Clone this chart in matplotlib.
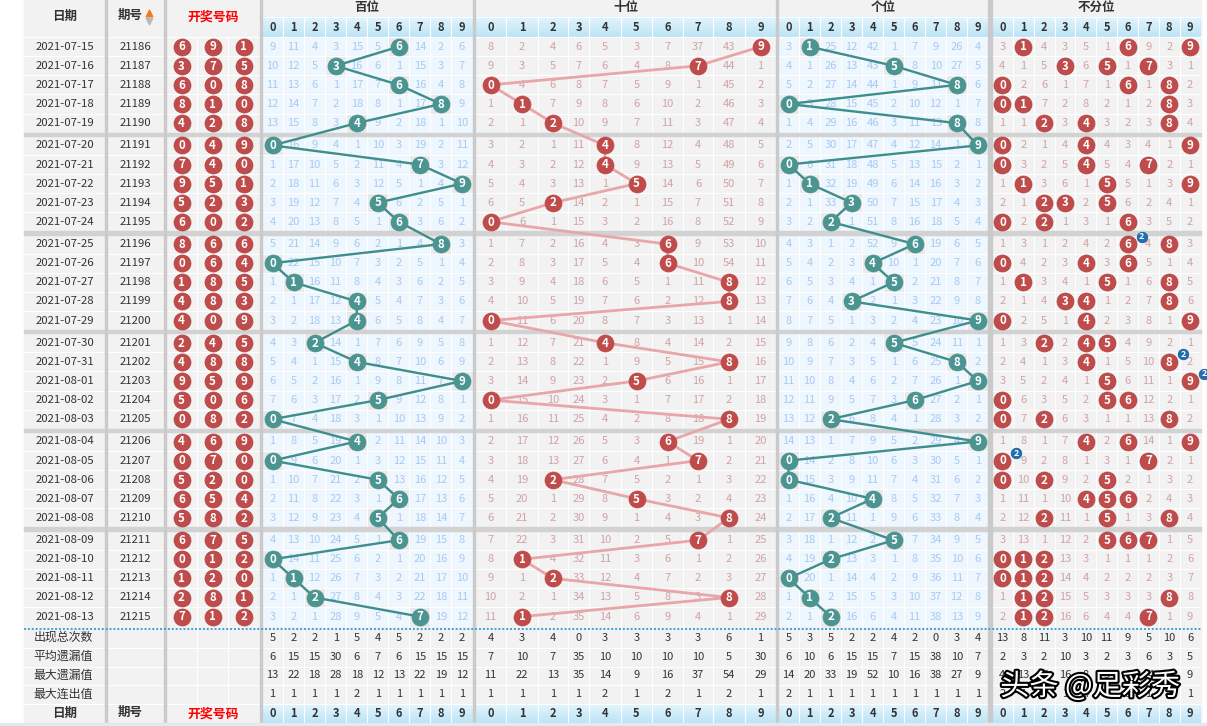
import numpy as np
import matplotlib.pyplot as plt
from matplotlib.colors import LinearSegmentedColormap
from matplotlib.patches import Rectangle
import matplotlib.patheffects as pe

plt.rcParams['font.family'] = ['Noto Sans CJK SC', 'DejaVu Sans']

# ---- data ----
dates = ['2021-07-15', '2021-07-16', '2021-07-17', '2021-07-18', '2021-07-19',
         '2021-07-20', '2021-07-21', '2021-07-22', '2021-07-23', '2021-07-24',
         '2021-07-25', '2021-07-26', '2021-07-27', '2021-07-28', '2021-07-29',
         '2021-07-30', '2021-07-31', '2021-08-01', '2021-08-02', '2021-08-03',
         '2021-08-04', '2021-08-05', '2021-08-06', '2021-08-07', '2021-08-08',
         '2021-08-09', '2021-08-10', '2021-08-11', '2021-08-12', '2021-08-13']
issues = ['21186', '21187', '21188', '21189', '21190', '21191', '21192', '21193',
          '21194', '21195', '21196', '21197', '21198', '21199', '21200', '21201',
          '21202', '21203', '21204', '21205', '21206', '21207', '21208', '21209',
          '21210', '21211', '21212', '21213', '21214', '21215']
bai = [6, 3, 6, 8, 4, 0, 7, 9, 5, 6, 8, 0, 1, 4, 4, 2, 4, 9, 5, 0, 4, 0, 5, 6, 5, 6, 0, 1, 2, 7]
shi = [9, 7, 0, 1, 2, 4, 4, 5, 2, 0, 6, 6, 8, 8, 0, 4, 8, 5, 0, 8, 6, 7, 2, 5, 8, 7, 1, 2, 8, 1]
ge = [1, 5, 8, 0, 8, 9, 0, 1, 3, 2, 6, 4, 5, 3, 9, 5, 8, 9, 6, 2, 9, 0, 0, 4, 2, 5, 2, 0, 1, 2]

# omission values shown in the first row (0 = drawn digit)
bai_first = [9, 11, 4, 3, 15, 5, 0, 14, 2, 6]
shi_first = [8, 2, 4, 6, 5, 3, 7, 37, 43, 0]
ge_first = [3, 0, 25, 12, 42, 1, 7, 9, 26, 4]
any_first = [3, 0, 4, 3, 5, 1, 0, 9, 2, 0]

stat_labels = ['出现总次数', '平均遗漏值', '最大遗漏值', '最大连出值']
bai_stats = [[5, 2, 2, 1, 5, 4, 5, 2, 2, 2],
             [6, 15, 15, 30, 6, 7, 6, 15, 15, 15],
             [13, 22, 18, 28, 18, 12, 13, 22, 19, 12],
             [1, 1, 1, 1, 2, 1, 1, 1, 1, 1]]
shi_stats = [[4, 3, 4, 0, 3, 3, 3, 3, 6, 1],
             [7, 10, 7, 35, 10, 10, 10, 10, 5, 30],
             [11, 22, 13, 35, 14, 9, 16, 37, 54, 29],
             [1, 1, 1, 1, 2, 1, 2, 1, 2, 1]]
ge_stats = [[5, 3, 5, 2, 2, 4, 2, 0, 3, 4],
            [6, 10, 6, 15, 15, 7, 15, 38, 10, 7],
            [14, 20, 33, 19, 52, 10, 16, 38, 27, 9],
            [2, 1, 1, 1, 1, 1, 1, 1, 1, 1]]
any_stats = [[13, 8, 11, 3, 10, 11, 9, 5, 10, 6],
             [2, 3, 2, 10, 3, 2, 3, 6, 3, 5],
             [4, 13, 7, 16, 8, 5, 6, 14, 5, 9],
             [2, 4, 4, 1, 4, 4, 3, 1, 3, 1]]

n = len(dates)
hits_any = [[bai[i], shi[i], ge[i]] for i in range(n)]


def omission(first, hit_sets):
    table = [list(first)]
    for i in range(1, len(hit_sets)):
        table.append([0 if d in hit_sets[i] else table[-1][d] + 1 for d in range(10)])
    return table


bai_om = omission(bai_first, [[v] for v in bai])
shi_om = omission(shi_first, [[v] for v in shi])
ge_om = omission(ge_first, [[v] for v in ge])
any_om = omission(any_first, hits_any)

# ---- layout (pixels) ----
W, H = 1207, 726
fig = plt.figure(figsize=(W / 100, H / 100), dpi=100)
ax = fig.add_axes([0, 0, 1, 1])

X0, X1 = 24, 1201
date_x = (24, 105)
issue_x = (107, 164)
draw_edges = np.array([166, 197, 228, 259.5])
bai_edges = np.linspace(262, 472.5, 11)
shi_edges = np.array([475, 506, 538, 568, 589, 621, 652, 683, 713, 745, 776])
ge_edges = np.linspace(778, 988.3, 11)
any_edges = np.linspace(992, 1200.5, 11)
borders = [(105, 107), (164, 166), (259.5, 262), (472.5, 475), (776, 778), (988.3, 992)]

rh = 19.1
rc = np.array([46.7 + (i // 5) * 98.7 + (i % 5) * rh for i in range(n)])
stat_c = [637.6, 656.5, 675.4, 694.3]
head_y = (16.8, 36.9)
foot_y = (703.7, 722.6)

GRAY_BG = '#f2f2f2'
BLUE_BG = '#eef6fe'
BLUE_TXT = '#a8caf2'
ROSE_TXT = '#d0a3a5'
TEAL = '#4a9491'
TEAL_LINE = '#3e8e8b'
RED = '#bf4b4b'
PINK_LINE = '#e9a6a9'
DARK = '#333333'


def mid(e):
    e = np.asarray(e)
    return (e[:-1] + e[1:]) / 2


sections = [
    ('百位', bai_edges, BLUE_BG, BLUE_TXT, bai_om, bai_stats),
    ('十位', shi_edges, GRAY_BG, ROSE_TXT, shi_om, shi_stats),
    ('个位', ge_edges, BLUE_BG, BLUE_TXT, ge_om, ge_stats),
    ('不分位', any_edges, GRAY_BG, ROSE_TXT, any_om, any_stats),
]

# base
ax.add_patch(Rectangle((X0, 0), X1 - X0, H, color=GRAY_BG, zorder=0))
for g in range(6):
    top = rc[g * 5] - rh / 2
    bot = rc[g * 5 + 4] + rh / 2
    for name, e, bg, tc, om, st in sections:
        if bg != GRAY_BG:
            ax.add_patch(Rectangle((e[0], top), e[-1] - e[0], bot - top, color=bg, zorder=0.5))

# header gradients
cmap = LinearSegmentedColormap.from_list('hdr', ['#e3f5fd', '#bde4f6'])
grad = np.linspace(0, 1, 30).reshape(-1, 1)
for y0, y1 in (head_y, foot_y):
    ax.imshow(grad, cmap=cmap, extent=(262, X1, y1, y0), aspect='auto', zorder=0.6)

# gray background behind drawn digits in blue sections
for draw, e in ((bai, bai_edges), (ge, ge_edges)):
    for i, d in enumerate(draw):
        ax.add_patch(Rectangle((e[d], rc[i] - rh / 2), e[d + 1] - e[d], rh,
                               color='#e9e9e9', zorder=0.7))

# white grid lines
hl = [head_y[1] + 0.3]
for i in range(n):
    if i % 5 != 4:
        hl.append(rc[i] + rh / 2)
hl += [628.7 + 18.9 * k for k in range(1, 5)]
ax.hlines(hl, X0, X1, colors='white', lw=0.8, zorder=1)
ax.hlines([head_y[0]], 262, X1, colors='white', lw=0.8, zorder=1)
for name, e, bg, tc, om, st in sections:
    ax.vlines(e[1:-1], head_y[0], foot_y[1], colors='white', lw=0.8, zorder=1)
ax.vlines(draw_edges[1:-1], head_y[1], foot_y[0], colors='white', lw=0.8, zorder=1)

# group separators and section borders
for g in range(5):
    y0 = rc[g * 5 + 4] + rh / 2
    y1 = rc[g * 5 + 5] - rh / 2
    ax.add_patch(Rectangle((X0, y0), X1 - X0, y1 - y0, color='#d2d2d2', zorder=1.2))
for a, b in borders:
    ax.add_patch(Rectangle((a, 0), b - a, foot_y[1], color='#cacaca', zorder=1.3))
ax.hlines([628.6], X0, X1, colors='#3f9fdb', lw=1.4, linestyles=(0, (1, 1)), zorder=1.4)

# headers
tk = dict(ha='center', va='center', zorder=3)
for yc in (16.5, 713.5):
    ax.text(np.mean(date_x), yc, '日期', fontsize=9, fontweight='bold', color=DARK, **tk)
    ax.text(np.mean(issue_x) - 5, yc - 1, '期号', fontsize=9, fontweight='bold', color=DARK, **tk)
    ax.text(mid([draw_edges[0], draw_edges[-1]])[0], yc, '开奖号码', fontsize=9.3,
            fontweight='bold', color='#ff0000', **tk)
ax.scatter([149], [13], marker='^', s=22, color='#f07a1e', zorder=3)
ax.scatter([149], [20.5], marker='v', s=22, color='#b8b8b8', zorder=3)
for name, e, bg, tc, om, st in sections:
    ax.text((e[0] + e[-1]) / 2, 7, name, fontsize=9, fontweight='bold', color=DARK, **tk)
    for d, x in enumerate(mid(e)):
        for yc in (np.mean(head_y) + 0.3, np.mean(foot_y) + 0.3):
            ax.text(x, yc, str(d), fontsize=8, fontweight='bold', color=DARK, **tk)

# left columns
for i in range(n):
    ax.text(np.mean(date_x), rc[i], dates[i], fontsize=8.2, color=DARK, **tk)
    ax.text(np.mean(issue_x), rc[i], issues[i], fontsize=8.2, color=DARK, **tk)
dx = mid(draw_edges)
for k, draw in enumerate((bai, shi, ge)):
    ax.scatter([dx[k]] * n, rc, s=150, color=RED, edgecolors='#b04444', lw=0.5, zorder=5)
    for i in range(n):
        ax.text(dx[k], rc[i] + 0.3, str(draw[i]), fontsize=8.3, fontweight='bold',
                color='white', ha='center', va='center', zorder=6)

# omission numbers and stats
for name, e, bg, tc, om, st in sections:
    cx = mid(e)
    for i in range(n):
        for d in range(10):
            if om[i][d] != 0:
                ax.text(cx[d], rc[i], str(om[i][d]), fontsize=8, color=tc, **tk)
    for r in range(4):
        for d in range(10):
            ax.text(cx[d], stat_c[r], str(st[r][d]), fontsize=8, color=DARK, **tk)
for r in range(4):
    ax.text(np.mean(date_x) - 1, stat_c[r], stat_labels[r], fontsize=8.6, color=DARK, **tk)

# trend lines and balls
for draw, e, ball, line in ((bai, bai_edges, TEAL, TEAL_LINE),
                            (shi, shi_edges, RED, PINK_LINE),
                            (ge, ge_edges, TEAL, TEAL_LINE)):
    xs = mid(e)[draw]
    ax.plot(xs, rc, color=line, lw=1.7 if ball == TEAL else 2.0, zorder=4,
            solid_capstyle='round')
    ax.scatter(xs, rc, s=150, color=ball, edgecolors=ball, lw=0.5, zorder=5)
    for x, y, d in zip(xs, rc, draw):
        ax.text(x, y + 0.3, str(d), fontsize=8.3, fontweight='bold', color='white',
                ha='center', va='center', zorder=6)

ax_c = mid(any_edges)
for i in range(n):
    for d in sorted(set(hits_any[i])):
        ax.scatter([ax_c[d]], [rc[i]], s=150, color=RED, edgecolors='#b04444', lw=0.5, zorder=5)
        ax.text(ax_c[d], rc[i] + 0.3, str(d), fontsize=8.3, fontweight='bold', color='white',
                ha='center', va='center', zorder=6)
        cnt = hits_any[i].count(d)
        if cnt > 1:
            bx, by = ax_c[d] + 14, rc[i] - 7.5
            ax.scatter([bx], [by], s=58, color='#1f6fb2', edgecolors='#15588f', lw=0.5, zorder=7)
            ax.text(bx, by + 0.3, str(cnt), fontsize=6.5, fontweight='bold', color='white',
                    ha='center', va='center', zorder=8)

# bottom strip and watermark
ax.add_patch(Rectangle((0, foot_y[1]), W, H - foot_y[1], color='#e3e9ee', zorder=9))
ax.text(1090, 687, '头条 @足彩秀', fontsize=21, color='white', ha='center', va='center',
        zorder=10, path_effects=[pe.withStroke(linewidth=3, foreground='black')])

ax.set_xlim(0, W)
ax.set_ylim(H, 0)
ax.axis('off')
fig.savefig('out.png', dpi=100)
